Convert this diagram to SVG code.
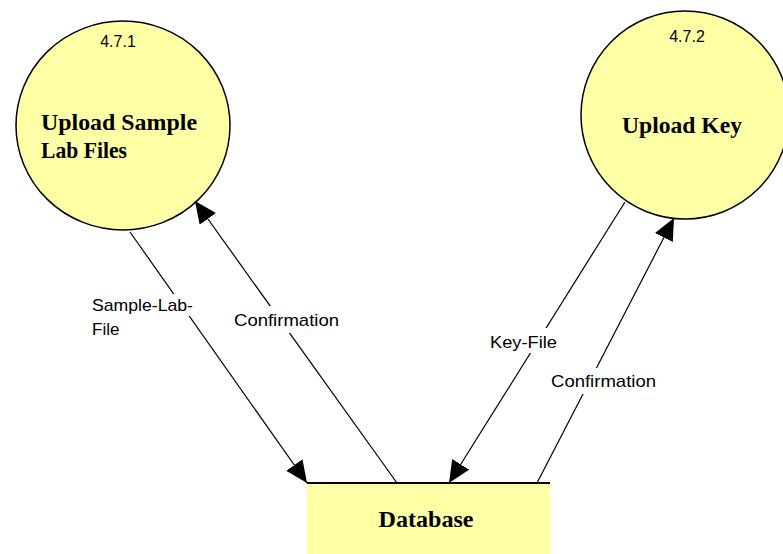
<svg xmlns="http://www.w3.org/2000/svg" width="783" height="554" viewBox="0 0 783 554">
<style>
.node{fill:#FFFFA6;stroke:#000;stroke-width:1.5}
.title{font-family:"Liberation Serif",serif;font-weight:bold;font-size:23px;fill:#000}
.num{font-family:"Liberation Sans",Arial,sans-serif;font-size:16px;fill:#000}
.lbl{font-family:"Liberation Sans",Arial,sans-serif;font-size:17px;fill:#000}
.flow{stroke:#000;stroke-width:1.2;fill:none;marker-end:url(#ah)}
.bg{fill:#fff}
</style>
<defs>
<marker id="ah" markerUnits="userSpaceOnUse" markerWidth="22" markerHeight="20" refX="22" refY="10" orient="auto">
<path d="M0,0 L22,10 L0,20 z" fill="#000"/>
</marker>
</defs>
<rect width="783" height="554" fill="#fff"/>
<g id="p471">
<ellipse class="node" cx="123" cy="125.5" rx="107" ry="104.5"/>
<text class="num" x="118" y="47" text-anchor="middle">4.7.1</text>
<text class="title" x="41" y="130" textLength="156" lengthAdjust="spacingAndGlyphs">Upload Sample</text>
<text class="title" x="41" y="158" textLength="86" lengthAdjust="spacingAndGlyphs">Lab Files</text>
</g>
<g id="p472">
<circle class="node" cx="685" cy="115" r="104"/>
<text class="num" x="687" y="42" text-anchor="middle">4.7.2</text>
<text class="title" x="682" y="133" text-anchor="middle" textLength="120" lengthAdjust="spacingAndGlyphs">Upload Key</text>
</g>
<g id="db">
<rect x="307" y="483" width="243" height="75" fill="#FFFFA6"/>
<line x1="307" y1="483" x2="550" y2="483" stroke="#000" stroke-width="2"/>
<text class="title" x="426" y="527" text-anchor="middle" textLength="95" lengthAdjust="spacingAndGlyphs">Database</text>
</g>
<g id="connectors">
<line class="flow" x1="130" y1="232" x2="307" y2="483"/>
<line class="flow" x1="397" y1="483" x2="195" y2="201"/>
<line class="flow" x1="625" y1="202" x2="449" y2="483"/>
<line class="flow" x1="537" y1="483" x2="674" y2="218"/>
<rect class="bg" x="90" y="294" width="106" height="22"/>
<text class="lbl" x="92" y="311" textLength="101" lengthAdjust="spacingAndGlyphs">Sample-Lab-</text>
<text class="lbl" x="92" y="335">File</text>
<rect class="bg" x="232" y="306" width="108" height="27"/>
<text class="lbl" x="234" y="326" textLength="105" lengthAdjust="spacingAndGlyphs">Confirmation</text>
<rect class="bg" x="488" y="328" width="71" height="25"/>
<text class="lbl" x="490" y="348" textLength="67" lengthAdjust="spacingAndGlyphs">Key-File</text>
<rect class="bg" x="549" y="368" width="109" height="26"/>
<text class="lbl" x="551" y="387" textLength="105" lengthAdjust="spacingAndGlyphs">Confirmation</text>
</g>
</svg>
